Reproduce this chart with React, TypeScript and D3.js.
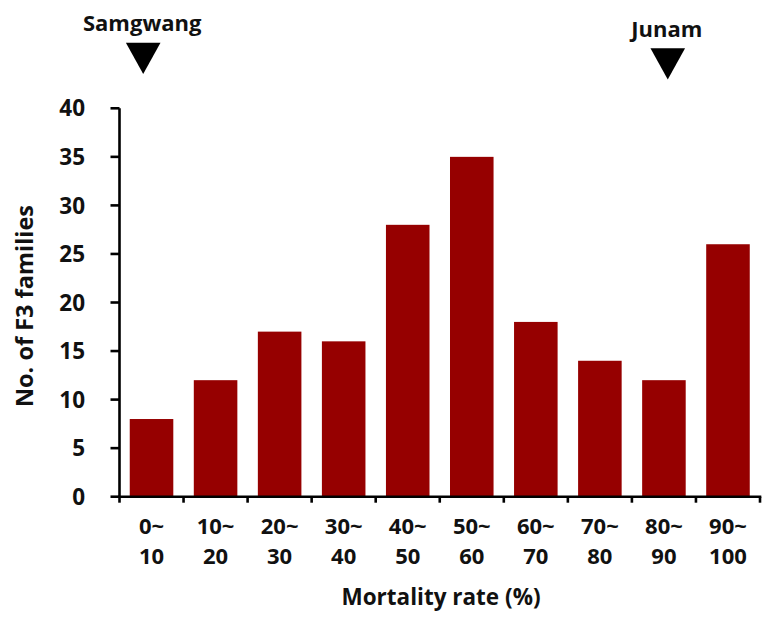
import React from "react";
import * as d3 from "d3";

const categories = ["0~10", "10~20", "20~30", "30~40", "40~50", "50~60", "60~70", "70~80", "80~90", "90~100"];
const families = [8, 12, 17, 16, 28, 35, 18, 14, 12, 26];
const yTicks = [0, 5, 10, 15, 20, 25, 30, 35, 40];
const markerNames = ["Samgwang", "Junam"];
const markerRates = [3.7, 85.6];

const W = 770;
const H = 623;
const FONT = "'Open Sans', 'Noto Sans', sans-serif";

export default function App() {
  const left = 119.5;
  const right = 760;
  const bottom = 496.7;
  const top = 108.3;

  const x = d3.scaleBand<string>().domain(categories).range([left, right]).paddingInner(0.32).paddingOuter(0.16);
  const xRate = d3.scaleLinear().domain([0, 100]).range([left, right]);
  const y = d3.scaleLinear().domain([0, 40]).range([bottom, top]);
  const step = x.step();
  const boundaries = d3.range(categories.length + 1).map((i) => left + i * step);
  const markerDy = [0, 5.5];

  return (
    <svg width={W} height={H} style={{ position: "absolute", left: 0, top: 0, background: "#fff" }} fontFamily={FONT}>
      {/* bars */}
      {categories.map((c, i) => (
        <rect key={c} x={x(c)} y={y(families[i])} width={x.bandwidth()} height={y(0) - y(families[i])} fill="#960000" />
      ))}
      {/* y axis */}
      <line x1={left} x2={left} y1={y(40)} y2={y(0)} stroke="#000" strokeWidth={2.6} />
      {yTicks.map((t) => (
        <g key={t}>
          <line x1={left - 9} x2={left} y1={y(t)} y2={y(t)} stroke="#000" strokeWidth={2.6} />
          <text x={85} y={y(t)} dy="0.36em" textAnchor="end" fontSize={22.5} fontWeight="bold" fill="#111">
            {t}
          </text>
        </g>
      ))}
      {/* x axis */}
      <line x1={left - 1.3} x2={right + 1.3} y1={y(0)} y2={y(0)} stroke="#000" strokeWidth={2.6} />
      {boundaries.map((b, i) => (
        <line key={i} x1={b} x2={b} y1={y(0)} y2={y(0) + 6} stroke="#000" strokeWidth={2.6} />
      ))}
      {categories.map((c) => {
        const [a, b] = c.split("~");
        const cx = (x(c) as number) + x.bandwidth() / 2;
        return (
          <text key={c} x={cx} textAnchor="middle" fontSize={22} fontWeight="bold" fill="#111">
            <tspan x={cx} y={533.5}>{a + "~"}</tspan>
            <tspan x={cx} y={563.5}>{b}</tspan>
          </text>
        );
      })}
      {/* axis titles */}
      <text x={441} y={605} textAnchor="middle" fontSize={22.5} fontWeight="bold" fill="#111">
        Mortality rate (%)
      </text>
      <text transform={`translate(33,306) rotate(-90)`} textAnchor="middle" fontSize={23.5} fontWeight="bold" fill="#111">
        No. of F3 families
      </text>
      {/* markers */}
      {markerNames.map((n, i) => {
        const cx = xRate(markerRates[i]);
        const dy = markerDy[i];
        const tri = d3.line()([
          [cx - 17.3, 42.7 + dy],
          [cx + 17.3, 42.7 + dy],
          [cx, 74 + dy],
        ]) + "Z";
        return (
          <g key={n}>
            <text x={cx - 1} y={31 + dy} textAnchor="middle" fontSize={22} fontWeight="bold" fill="#111">
              {n}
            </text>
            <path d={tri} fill="#000" />
          </g>
        );
      })}
    </svg>
  );
}
